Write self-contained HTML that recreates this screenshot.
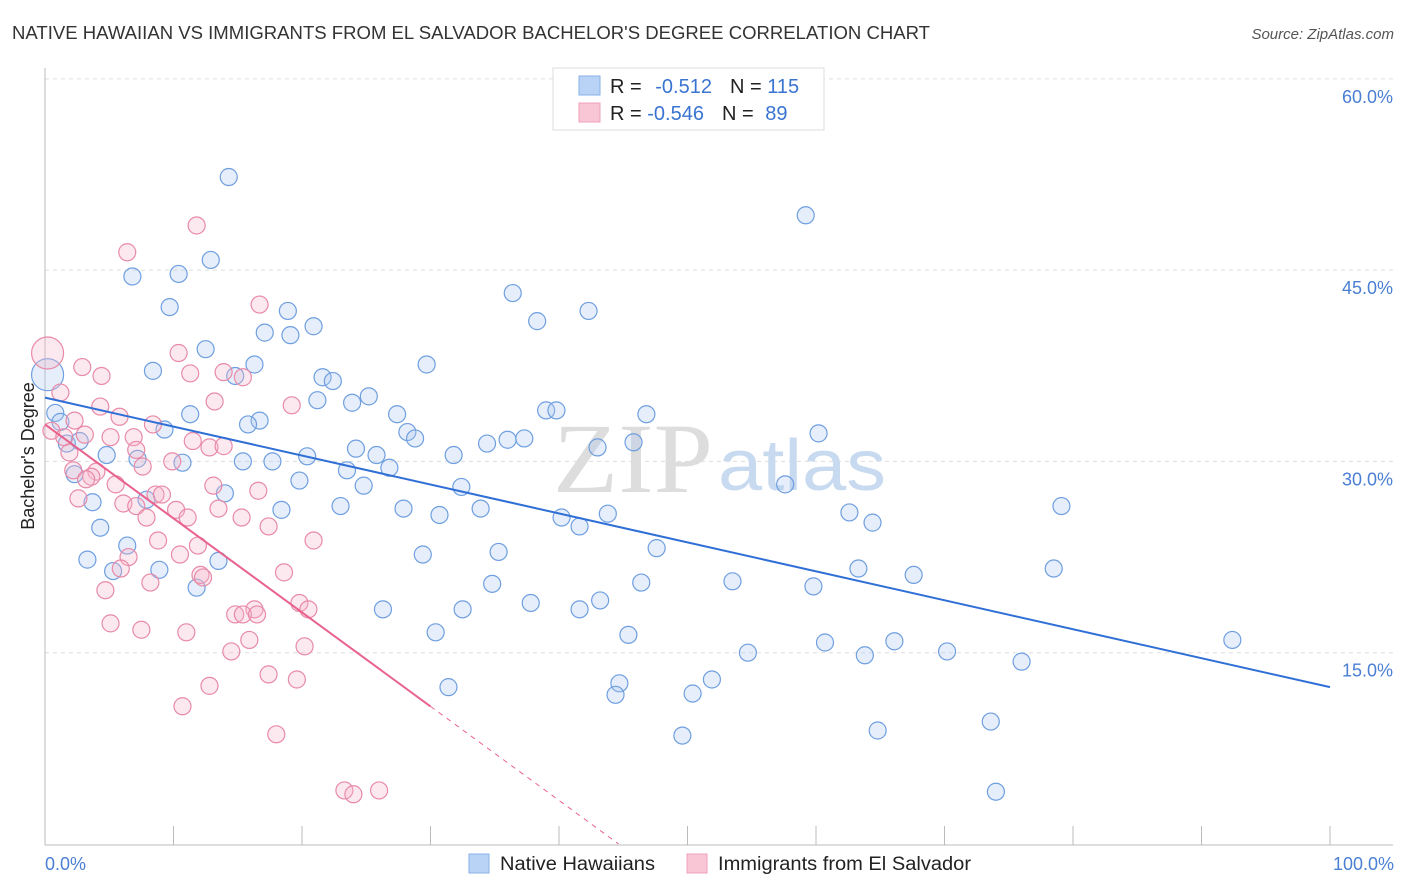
<!DOCTYPE html>
<html><head><meta charset="utf-8">
<style>
body{margin:0;background:#fff;font-family:"Liberation Sans",sans-serif;}
svg{display:block}
</style></head>
<body>
<svg id="chart" width="1406" height="892">
<text x="12" y="39" font-size="18" fill="#333" textLength="918" lengthAdjust="spacingAndGlyphs">NATIVE HAWAIIAN VS IMMIGRANTS FROM EL SALVADOR BACHELOR'S DEGREE CORRELATION CHART</text>
<text x="1394" y="39" font-size="15" fill="#555" font-style="italic" text-anchor="end">Source: ZipAtlas.com</text>
<g id="grid"></g>
<text x="553" y="492" font-size="100" fill="#ddd" font-family="Liberation Serif" textLength="160" lengthAdjust="spacingAndGlyphs">ZIP</text>
<text x="718" y="490" font-size="72" fill="#c8daf0" textLength="168" lengthAdjust="spacingAndGlyphs">atlas</text>
<g id="points"></g>
<g id="lines"></g>
<text transform="translate(34,456) rotate(-90)" font-size="18" fill="#222" text-anchor="middle">Bachelor's Degree</text>
<text x="45" y="870" font-size="18" fill="#4a7fd4">0.0%</text>
<text x="1394" y="870" font-size="18" fill="#4a7fd4" text-anchor="end">100.0%</text>
<g>
<rect x="553" y="68" width="271" height="62" fill="#fff" stroke="#ddd"/>
<rect x="579" y="76" width="21" height="19" fill="#b8d3f5" stroke="#8ab2e8"/>
<rect x="579" y="103" width="21" height="19" fill="#f9c6d5" stroke="#eea0b8"/>
<text x="610" y="93" font-size="20" fill="#222">R = <tspan fill="#3a74d1" dx="8">-0.512</tspan><tspan dx="18" fill="#222">N = </tspan><tspan fill="#3a74d1">115</tspan></text>
<text x="610" y="120" font-size="20" fill="#222">R = <tspan fill="#3a74d1">-0.546</tspan><tspan dx="18" fill="#222">N = </tspan><tspan fill="#3a74d1" dx="6">89</tspan></text>
</g>
<g>
<rect x="469" y="854" width="20" height="19" fill="#b8d3f5" stroke="#8ab2e8"/>
<text x="500" y="870" font-size="19" fill="#222" textLength="155" lengthAdjust="spacingAndGlyphs">Native Hawaiians</text>
<rect x="687" y="854" width="20" height="19" fill="#f9c6d5" stroke="#eea0b8"/>
<text x="718" y="870" font-size="19" fill="#222" textLength="253" lengthAdjust="spacingAndGlyphs">Immigrants from El Salvador</text>
</g>
</svg>
<script>
const yTicks=[15,30,45,60];
const yTickLabels=["15.0%","30.0%","45.0%","60.0%"];
const xTicks=[0,10,20,30,40,50,60,70,80,90,100];
const blueX=[14.3,59.2,12.9,6.8,10.4,9.7,36.4,42.3,38.3,18.9,17.1,19.1,20.9,12.5,29.7,16.3,8.4,14.8,21.6,22.4,21.2,23.9,25.2,11.3,16.7,15.8,27.4,39.0,39.8,46.8,28.2,28.8,9.3,34.4,36.0,37.3,45.8,43.0,60.2,24.2,25.8,31.8,20.4,15.4,17.7,10.7,7.2,23.5,26.8,32.4,24.8,14.0,19.8,57.6,0.8,1.2,1.7,2.7,4.8,2.3,3.7,7.9,23.0,27.9,30.7,33.9,40.2,41.6,43.8,62.6,64.4,79.1,18.4,4.3,6.4,35.3,29.4,47.6,3.3,5.3,8.9,13.5,11.8,34.8,46.4,53.5,59.8,63.3,67.6,78.5,26.3,32.5,37.8,41.6,43.2,30.4,45.4,60.7,66.1,54.7,63.8,70.2,76.0,92.4,44.7,44.4,51.9,50.4,31.4,49.6,64.8,73.6,74.0,0.2];
const blueY=[52.3,49.3,45.8,44.5,44.7,42.1,43.2,41.8,41.0,41.8,40.1,39.9,40.6,38.8,37.6,37.6,37.1,36.7,36.6,36.3,34.8,34.6,35.1,33.7,33.2,32.9,33.7,34.0,34.0,33.7,32.3,31.8,32.5,31.4,31.7,31.8,31.5,31.1,32.2,31.0,30.5,30.5,30.4,30.0,30.0,29.9,30.2,29.3,29.5,28.0,28.1,27.5,28.5,28.2,33.8,33.1,31.4,31.6,30.5,29.0,26.8,27.0,26.5,26.3,25.8,26.3,25.6,24.9,25.9,26.0,25.2,26.5,26.2,24.8,23.4,22.9,22.7,23.2,22.3,21.4,21.5,22.2,20.1,20.4,20.5,20.6,20.2,21.6,21.1,21.6,18.4,18.4,18.9,18.4,19.1,16.6,16.4,15.8,15.9,15.0,14.8,15.1,14.3,16.0,12.6,11.7,12.9,11.8,12.3,8.5,8.9,9.6,4.1,36.8];
const pinkX=[11.8,6.4,16.7,10.4,2.9,4.4,11.3,13.9,15.4,1.2,4.3,13.2,5.8,8.4,0.5,2.3,3.1,1.5,5.1,6.9,7.1,19.2,1.9,12.8,9.9,7.6,11.5,13.9,4.0,2.2,3.6,3.2,5.5,8.6,13.1,16.6,2.6,6.1,7.1,9.1,10.2,11.1,13.5,15.3,7.9,17.4,20.9,8.8,11.9,6.5,10.5,5.9,18.6,8.2,12.1,12.3,4.7,19.8,20.5,16.3,14.8,15.4,16.5,5.1,7.5,11.0,15.9,14.5,20.2,17.4,19.6,12.8,10.7,18.0,23.3,24.0,26.0,0.2];
const pinkY=[48.5,46.4,42.3,38.5,37.4,36.7,36.9,37.0,36.6,35.4,34.3,34.7,33.5,32.9,32.4,33.2,32.1,31.9,31.9,31.9,30.9,34.4,30.7,31.1,30.0,29.6,31.6,31.2,29.2,29.3,28.8,28.6,28.2,27.4,28.1,27.7,27.1,26.7,26.5,27.4,26.2,25.6,26.3,25.6,25.6,24.9,23.8,23.8,23.4,22.5,22.7,21.6,21.3,20.5,21.1,20.9,19.9,18.9,18.4,18.4,18.0,18.0,18.0,17.3,16.8,16.6,16.0,15.1,15.5,13.3,12.9,12.4,10.8,8.6,4.2,3.9,4.2,38.5];
const blueLine=[35.0,12.3];
const pinkLine=[32.9,-0.737];
const NS="http://www.w3.org/2000/svg";
const X=v=>45+v*12.85;
const Y=v=>844-v*12.753;
function mk(tag,attrs,parent){const e=document.createElementNS(NS,tag);for(const k in attrs)e.setAttribute(k,attrs[k]);parent.appendChild(e);return e;}
const grid=document.getElementById('grid');
yTicks.forEach((t,i)=>{
  const l=mk('line',{x1:45,x2:1393,y1:Y(t),y2:Y(t),stroke:'#ddd','stroke-dasharray':'4,4'},grid);
  
  
  const tx=mk('text',{x:1393,y:Y(t)+24,'font-size':18,fill:'#4a7fd4','text-anchor':'end'},grid);
  tx.textContent=yTickLabels[i];
  
  
});
const ax=mk('line',{x1:45,x2:45,y1:68,y2:845,stroke:'#bbb'},grid);


const bx=mk('line',{x1:45,x2:1393,y1:845,y2:845,stroke:'#bbb'},grid);


xTicks.forEach(t=>{
  const l=mk('line',{x1:X(t),x2:X(t),y1:826,y2:845,stroke:'#bbb'},grid);
  
  
});
const pts=document.getElementById('points');
function dots(xs,ys,fill,stroke,name){
  xs.forEach((x,i)=>{
    const big=i===xs.length-1;
    const c=mk('circle',{cx:X(x),cy:Y(ys[i]),r:big?16:8.5,fill:fill,'fill-opacity':0.3,stroke:stroke,'stroke-width':1.2},pts);
    
    
  });
}
dots(blueX,blueY,'#a9c8f0','#6f9fe0','native-hawaiian-point');
dots(pinkX,pinkY,'#f6b6ca','#e88aa8','el-salvador-point');
const lines=document.getElementById('lines');
const bl=mk('line',{x1:X(0),y1:Y(blueLine[0]),x2:X(100),y2:Y(blueLine[1]),stroke:'#2f6fd6','stroke-width':2},lines);


const pEnd=-pinkLine[0]/pinkLine[1];
const pl=mk('line',{x1:X(0),y1:Y(pinkLine[0]),x2:X(30),y2:Y(pinkLine[0]+pinkLine[1]*30),stroke:'#e8628d','stroke-width':2},lines);


const pd=mk('line',{x1:X(30),y1:Y(pinkLine[0]+pinkLine[1]*30),x2:X(pEnd),y2:Y(0),stroke:'#e8628d','stroke-width':1,'stroke-dasharray':'5,5'},lines);


</script>
</body></html>
